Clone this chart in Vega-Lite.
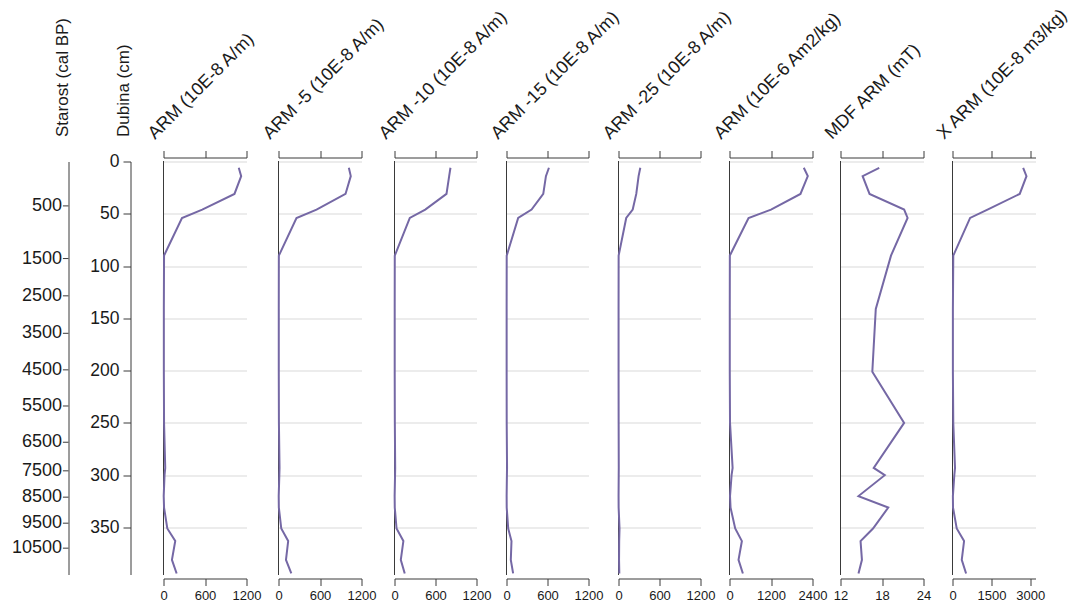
{
  "$schema": "https://vega.github.io/schema/vega-lite/v6.json",
  "padding": {"left": 11.5, "top": 4.5, "right": 0, "bottom": 0},
  "background": "white",
  "bounds": "flush",
  "spacing": 0,
  "config": {
    "view": {"stroke": null},
    "font": "Liberation Sans",
    "axis": {"domainColor": "#3a3a3a", "tickColor": "#3a3a3a", "labelColor": "#1a1a1a", "titleColor": "#1a1a1a", "titleFontWeight": "normal", "labelFont": "Liberation Sans", "titleFont": "Liberation Sans"}
  },
  "datasets": {
    "ages": [
      {"age": 500, "depth": 43.0},
      {"age": 1500, "depth": 94.0},
      {"age": 2500, "depth": 130.1},
      {"age": 3500, "depth": 166.4},
      {"age": 4500, "depth": 201.8},
      {"age": 5500, "depth": 236.8},
      {"age": 6500, "depth": 271.9},
      {"age": 7500, "depth": 299.6},
      {"age": 8500, "depth": 325.1},
      {"age": 9500, "depth": 350.3},
      {"age": 10500, "depth": 374.5}
    ],
    "core": [
      {"depth": 6, "arm": 1088, "arm5": 1017, "arm10": 819, "arm15": 621, "arm25": 319, "armkg": 2148, "mdf": 17.6, "xarm": 2724},
      {"depth": 14, "arm": 1123, "arm5": 1045, "arm10": 800, "arm15": 577, "arm25": 294, "armkg": 2264, "mdf": 15.2, "xarm": 2852},
      {"depth": 31, "arm": 1026, "arm5": 969, "arm10": 761, "arm15": 538, "arm25": 260, "armkg": 2052, "mdf": 16.2, "xarm": 2592},
      {"depth": 46, "arm": 560, "arm5": 550, "arm10": 450, "arm15": 367, "arm25": 208, "armkg": 1200, "mdf": 21.2, "xarm": 1350},
      {"depth": 54, "arm": 267, "arm5": 260, "arm10": 224, "arm15": 171, "arm25": 113, "armkg": 551, "mdf": 21.7, "xarm": 679},
      {"depth": 90, "arm": 8, "arm5": 5, "arm10": 4, "arm15": 3, "arm25": 2, "armkg": 10, "mdf": 19.3, "xarm": 30},
      {"depth": 141, "arm": 5, "arm5": 4, "arm10": 3, "arm15": 2, "arm25": 1, "armkg": 8, "mdf": 17.1, "xarm": 15},
      {"depth": 201, "arm": 5, "arm5": 4, "arm10": 3, "arm15": 2, "arm25": 1, "armkg": 8, "mdf": 16.6, "xarm": 15},
      {"depth": 250, "arm": 8, "arm5": 6, "arm10": 5, "arm15": 3, "arm25": 2, "armkg": 15, "mdf": 21.2, "xarm": 30},
      {"depth": 293, "arm": 25, "arm5": 15, "arm10": 10, "arm15": 8, "arm25": 4, "armkg": 90, "mdf": 16.8, "xarm": 97},
      {"depth": 300, "arm": 15, "arm5": 12, "arm10": 8, "arm15": 6, "arm25": 3, "armkg": 60, "mdf": 18.4, "xarm": 70},
      {"depth": 320, "arm": 3, "arm5": 3, "arm10": 2, "arm15": 2, "arm25": 1, "armkg": 15, "mdf": 14.6, "xarm": 15},
      {"depth": 331, "arm": 8, "arm5": 5, "arm10": 4, "arm15": 3, "arm25": 2, "armkg": 30, "mdf": 18.9, "xarm": 20},
      {"depth": 351, "arm": 55, "arm5": 40, "arm10": 30, "arm15": 25, "arm25": 15, "armkg": 165, "mdf": 16.7, "xarm": 163},
      {"depth": 363, "arm": 170, "arm5": 140, "arm10": 130, "arm15": 73, "arm25": 10, "armkg": 358, "mdf": 14.9, "xarm": 446},
      {"depth": 381, "arm": 122, "arm5": 108, "arm10": 92, "arm15": 63, "arm25": 8, "armkg": 261, "mdf": 15.1, "xarm": 357},
      {"depth": 394, "arm": 190, "arm5": 185, "arm10": 150, "arm15": 97, "arm25": 12, "armkg": 387, "mdf": 14.6, "xarm": 524}
    ]
  },
  "hconcat": [
    {
      "width": 62, "height": 413,
      "data": {"name": "ages"},
      "layer": [
        {"mark": {"type": "rule", "color": "#3a3a3a"},
         "encoding": {
           "y": {"field": "depth", "type": "quantitative", "scale": {"domain": [0, 395], "reverse": true},
                 "axis": {"orient": "left", "domain": true, "ticks": false, "labels": false, "grid": false, "title": "Starost (cal BP)", "titleAngle": 270, "titleAlign": "left", "titleBaseline": "alphabetic", "titleX": -1, "titleY": -25, "titleFontSize": 17}},
           "x": {"datum": 0, "type": "quantitative", "scale": {"domain": [0, 1]}, "axis": null},
           "x2": {"datum": -0.09}
         }},
        {"mark": {"type": "text", "align": "right", "baseline": "middle", "dx": -6.5, "fontSize": 18, "color": "#1a1a1a"},
         "encoding": {
           "y": {"field": "depth", "type": "quantitative"},
           "x": {"datum": 0, "type": "quantitative"},
           "text": {"field": "age", "type": "quantitative", "format": "d"}
         }}
      ]
    },
    {
      "width": 20, "height": 413,
      "data": {"name": "ages"},
      "mark": {"type": "point", "opacity": 0},
      "encoding": {
        "y": {"field": "depth", "type": "quantitative", "scale": {"domain": [0, 395], "reverse": true},
              "axis": {"orient": "left", "values": [0, 50, 100, 150, 200, 250, 300, 350], "tickSize": 7.5, "labelPadding": 4, "labelFontSize": 17.5, "grid": false, "title": "Dubina (cm)", "titleAngle": 270, "titleAlign": "left", "titleBaseline": "alphabetic", "titleX": -2, "titleY": -25, "titleFontSize": 17}}
      }
    },
    {
      "width": 115, "height": 413,
      "data": {"name": "core"},
      "resolve": {"axis": {"x": "independent"}},
      "layer": [
        {"mark": {"type": "rule", "color": "#3a3a3a", "strokeWidth": 1},
         "encoding": {"x": {"datum": 0, "type": "quantitative", "scale": {"domain": [0, 1200], "range": [13, 96]},
           "axis": {"orient": "top", "values": [0, 600, 1200], "labels": false, "tickSize": 7, "offset": 4, "grid": false, "title": "ARM (10E-8 A/m)", "titleAngle": -45, "titleAlign": "left", "titleBaseline": "alphabetic", "titleX": 4, "titleY": -18, "titleFontSize": 18}}}},
        {"mark": {"type": "line", "color": "#7568a5", "strokeWidth": 2},
         "encoding": {
           "x": {"field": "arm", "type": "quantitative", "scale": {"domain": [0, 1200], "range": [13, 96]},
                 "axis": {"orient": "bottom", "values": [0, 600, 1200], "format": "d", "tickSize": 7, "offset": 4, "labelFontSize": 13, "labelPadding": 4, "labelFlush": false, "grid": false, "title": null}},
           "y": {"field": "depth", "type": "quantitative", "scale": {"domain": [0, 395], "reverse": true},
                 "axis": {"values": [0, 50, 100, 150, 200, 250, 300, 350], "grid": true, "gridColor": "#d9d9d9", "domain": false, "ticks": false, "labels": false, "title": null}},
           "order": {"field": "depth", "type": "quantitative"}
         }}
      ]
    },
    {
      "width": 116, "height": 413,
      "data": {"name": "core"},
      "resolve": {"axis": {"x": "independent"}},
      "layer": [
        {"mark": {"type": "rule", "color": "#3a3a3a", "strokeWidth": 1},
         "encoding": {"x": {"datum": 0, "type": "quantitative", "scale": {"domain": [0, 1200], "range": [13, 96]},
           "axis": {"orient": "top", "values": [0, 600, 1200], "labels": false, "tickSize": 7, "offset": 4, "grid": false, "title": "ARM -5 (10E-8 A/m)", "titleAngle": -45, "titleAlign": "left", "titleBaseline": "alphabetic", "titleX": 4, "titleY": -18, "titleFontSize": 18}}}},
        {"mark": {"type": "line", "color": "#7568a5", "strokeWidth": 2},
         "encoding": {
           "x": {"field": "arm5", "type": "quantitative", "scale": {"domain": [0, 1200], "range": [13, 96]},
                 "axis": {"orient": "bottom", "values": [0, 600, 1200], "format": "d", "tickSize": 7, "offset": 4, "labelFontSize": 13, "labelPadding": 4, "labelFlush": false, "grid": false, "title": null}},
           "y": {"field": "depth", "type": "quantitative", "scale": {"domain": [0, 395], "reverse": true},
                 "axis": {"values": [0, 50, 100, 150, 200, 250, 300, 350], "grid": true, "gridColor": "#d9d9d9", "domain": false, "ticks": false, "labels": false, "title": null}},
           "order": {"field": "depth", "type": "quantitative"}
         }}
      ]
    },
    {
      "width": 112, "height": 413,
      "data": {"name": "core"},
      "resolve": {"axis": {"x": "independent"}},
      "layer": [
        {"mark": {"type": "rule", "color": "#3a3a3a", "strokeWidth": 1},
         "encoding": {"x": {"datum": 0, "type": "quantitative", "scale": {"domain": [0, 1200], "range": [13, 95]},
           "axis": {"orient": "top", "values": [0, 600, 1200], "labels": false, "tickSize": 7, "offset": 4, "grid": false, "title": "ARM -10 (10E-8 A/m)", "titleAngle": -45, "titleAlign": "left", "titleBaseline": "alphabetic", "titleX": 4, "titleY": -18, "titleFontSize": 18}}}},
        {"mark": {"type": "line", "color": "#7568a5", "strokeWidth": 2},
         "encoding": {
           "x": {"field": "arm10", "type": "quantitative", "scale": {"domain": [0, 1200], "range": [13, 95]},
                 "axis": {"orient": "bottom", "values": [0, 600, 1200], "format": "d", "tickSize": 7, "offset": 4, "labelFontSize": 13, "labelPadding": 4, "labelFlush": false, "grid": false, "title": null}},
           "y": {"field": "depth", "type": "quantitative", "scale": {"domain": [0, 395], "reverse": true},
                 "axis": {"values": [0, 50, 100, 150, 200, 250, 300, 350], "grid": true, "gridColor": "#d9d9d9", "domain": false, "ticks": false, "labels": false, "title": null}},
           "order": {"field": "depth", "type": "quantitative"}
         }}
      ]
    },
    {
      "width": 112, "height": 413,
      "data": {"name": "core"},
      "resolve": {"axis": {"x": "independent"}},
      "layer": [
        {"mark": {"type": "rule", "color": "#3a3a3a", "strokeWidth": 1},
         "encoding": {"x": {"datum": 0, "type": "quantitative", "scale": {"domain": [0, 1200], "range": [13, 95]},
           "axis": {"orient": "top", "values": [0, 600, 1200], "labels": false, "tickSize": 7, "offset": 4, "grid": false, "title": "ARM -15 (10E-8 A/m)", "titleAngle": -45, "titleAlign": "left", "titleBaseline": "alphabetic", "titleX": 4, "titleY": -18, "titleFontSize": 18}}}},
        {"mark": {"type": "line", "color": "#7568a5", "strokeWidth": 2},
         "encoding": {
           "x": {"field": "arm15", "type": "quantitative", "scale": {"domain": [0, 1200], "range": [13, 95]},
                 "axis": {"orient": "bottom", "values": [0, 600, 1200], "format": "d", "tickSize": 7, "offset": 4, "labelFontSize": 13, "labelPadding": 4, "labelFlush": false, "grid": false, "title": null}},
           "y": {"field": "depth", "type": "quantitative", "scale": {"domain": [0, 395], "reverse": true},
                 "axis": {"values": [0, 50, 100, 150, 200, 250, 300, 350], "grid": true, "gridColor": "#d9d9d9", "domain": false, "ticks": false, "labels": false, "title": null}},
           "order": {"field": "depth", "type": "quantitative"}
         }}
      ]
    },
    {
      "width": 111, "height": 413,
      "data": {"name": "core"},
      "resolve": {"axis": {"x": "independent"}},
      "layer": [
        {"mark": {"type": "rule", "color": "#3a3a3a", "strokeWidth": 1},
         "encoding": {"x": {"datum": 0, "type": "quantitative", "scale": {"domain": [0, 1200], "range": [13, 95]},
           "axis": {"orient": "top", "values": [0, 600, 1200], "labels": false, "tickSize": 7, "offset": 4, "grid": false, "title": "ARM -25 (10E-8 A/m)", "titleAngle": -45, "titleAlign": "left", "titleBaseline": "alphabetic", "titleX": 4, "titleY": -18, "titleFontSize": 18}}}},
        {"mark": {"type": "line", "color": "#7568a5", "strokeWidth": 2},
         "encoding": {
           "x": {"field": "arm25", "type": "quantitative", "scale": {"domain": [0, 1200], "range": [13, 95]},
                 "axis": {"orient": "bottom", "values": [0, 600, 1200], "format": "d", "tickSize": 7, "offset": 4, "labelFontSize": 13, "labelPadding": 4, "labelFlush": false, "grid": false, "title": null}},
           "y": {"field": "depth", "type": "quantitative", "scale": {"domain": [0, 395], "reverse": true},
                 "axis": {"values": [0, 50, 100, 150, 200, 250, 300, 350], "grid": true, "gridColor": "#d9d9d9", "domain": false, "ticks": false, "labels": false, "title": null}},
           "order": {"field": "depth", "type": "quantitative"}
         }}
      ]
    },
    {
      "width": 111, "height": 413,
      "data": {"name": "core"},
      "resolve": {"axis": {"x": "independent"}},
      "layer": [
        {"mark": {"type": "rule", "color": "#3a3a3a", "strokeWidth": 1},
         "encoding": {"x": {"datum": 0, "type": "quantitative", "scale": {"domain": [0, 2400], "range": [13, 96]},
           "axis": {"orient": "top", "values": [0, 1200, 2400], "labels": false, "tickSize": 7, "offset": 4, "grid": false, "title": "ARM (10E-6 Am2/kg)", "titleAngle": -45, "titleAlign": "left", "titleBaseline": "alphabetic", "titleX": 4, "titleY": -18, "titleFontSize": 18}}}},
        {"mark": {"type": "line", "color": "#7568a5", "strokeWidth": 2},
         "encoding": {
           "x": {"field": "armkg", "type": "quantitative", "scale": {"domain": [0, 2400], "range": [13, 96]},
                 "axis": {"orient": "bottom", "values": [0, 1200, 2400], "format": "d", "tickSize": 7, "offset": 4, "labelFontSize": 13, "labelPadding": 4, "labelFlush": false, "grid": false, "title": null}},
           "y": {"field": "depth", "type": "quantitative", "scale": {"domain": [0, 395], "reverse": true},
                 "axis": {"values": [0, 50, 100, 150, 200, 250, 300, 350], "grid": true, "gridColor": "#d9d9d9", "domain": false, "ticks": false, "labels": false, "title": null}},
           "order": {"field": "depth", "type": "quantitative"}
         }}
      ]
    },
    {
      "width": 112, "height": 413,
      "data": {"name": "core"},
      "resolve": {"axis": {"x": "independent"}},
      "layer": [
        {"mark": {"type": "rule", "color": "#3a3a3a", "strokeWidth": 1},
         "encoding": {"x": {"datum": 12, "type": "quantitative", "scale": {"domain": [12, 24], "range": [13, 96]},
           "axis": {"orient": "top", "values": [12, 18, 24], "labels": false, "tickSize": 7, "offset": 4, "grid": false, "title": "MDF ARM (mT)", "titleAngle": -45, "titleAlign": "left", "titleBaseline": "alphabetic", "titleX": 4, "titleY": -18, "titleFontSize": 18}}}},
        {"mark": {"type": "line", "color": "#7568a5", "strokeWidth": 2},
         "encoding": {
           "x": {"field": "mdf", "type": "quantitative", "scale": {"domain": [12, 24], "range": [13, 96]},
                 "axis": {"orient": "bottom", "values": [12, 18, 24], "format": "d", "tickSize": 7, "offset": 4, "labelFontSize": 13, "labelPadding": 4, "labelFlush": false, "grid": false, "title": null}},
           "y": {"field": "depth", "type": "quantitative", "scale": {"domain": [0, 395], "reverse": true},
                 "axis": {"values": [0, 50, 100, 150, 200, 250, 300, 350], "grid": true, "gridColor": "#d9d9d9", "domain": false, "ticks": false, "labels": false, "title": null}},
           "order": {"field": "depth", "type": "quantitative"}
         }}
      ]
    },
    {
      "width": 96, "height": 413,
      "data": {"name": "core"},
      "resolve": {"axis": {"x": "independent"}},
      "layer": [
        {"mark": {"type": "rule", "color": "#3a3a3a", "strokeWidth": 1},
         "encoding": {"x": {"datum": 0, "type": "quantitative", "scale": {"domain": [0, 3200], "range": [13, 96]},
           "axis": {"orient": "top", "values": [0, 1500, 3000], "labels": false, "tickSize": 7, "offset": 4, "grid": false, "title": "X ARM (10E-8 m3/kg)", "titleAngle": -45, "titleAlign": "left", "titleBaseline": "alphabetic", "titleX": 4, "titleY": -18, "titleFontSize": 18}}}},
        {"mark": {"type": "line", "color": "#7568a5", "strokeWidth": 2},
         "encoding": {
           "x": {"field": "xarm", "type": "quantitative", "scale": {"domain": [0, 3200], "range": [13, 96]},
                 "axis": {"orient": "bottom", "values": [0, 1500, 3000], "format": "d", "tickSize": 7, "offset": 4, "labelFontSize": 13, "labelPadding": 4, "labelFlush": false, "grid": false, "title": null}},
           "y": {"field": "depth", "type": "quantitative", "scale": {"domain": [0, 395], "reverse": true},
                 "axis": {"values": [0, 50, 100, 150, 200, 250, 300, 350], "grid": true, "gridColor": "#d9d9d9", "domain": false, "ticks": false, "labels": false, "title": null}},
           "order": {"field": "depth", "type": "quantitative"}
         }}
      ]
    }
  ]
}
